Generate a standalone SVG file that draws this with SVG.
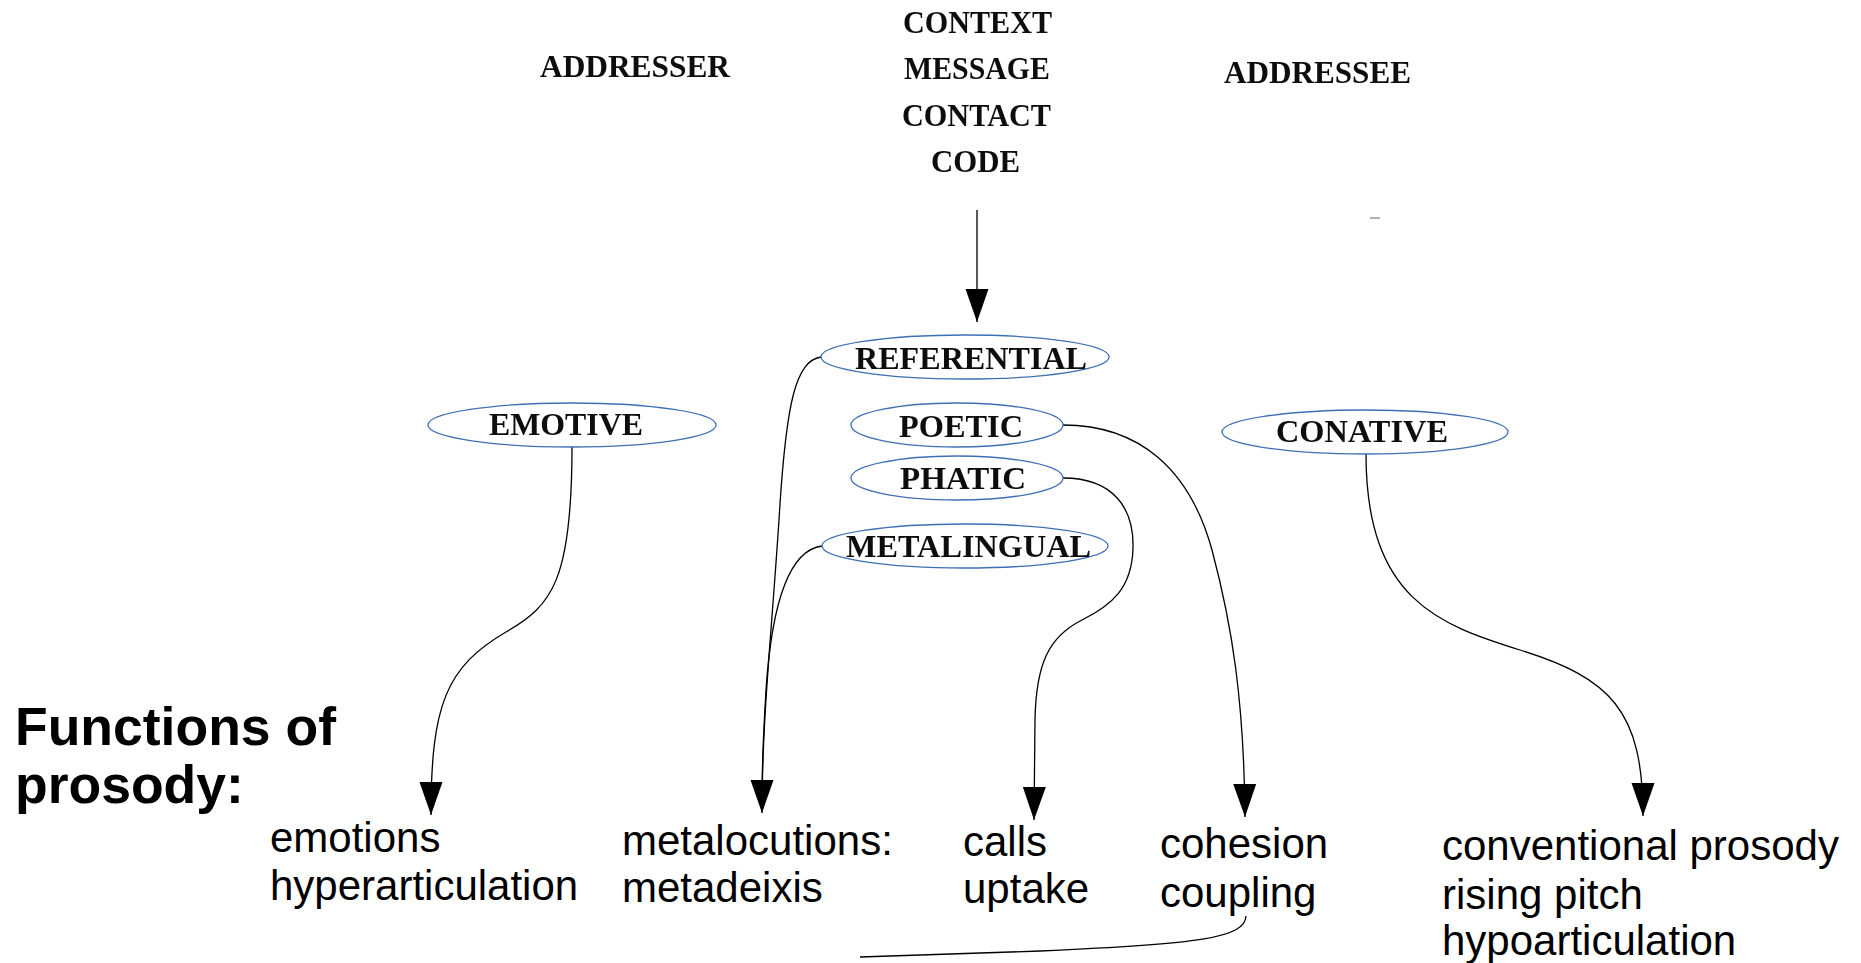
<svg xmlns="http://www.w3.org/2000/svg" width="1861" height="963" viewBox="0 0 1861 963">
  <defs>
    <style>
      .serif { font-family: "Liberation Serif", "DejaVu Serif", serif; font-weight: bold; font-size: 31px; fill: #111; }
      .fn { font-family: "Liberation Serif", "DejaVu Serif", serif; font-weight: bold; font-size: 32px; fill: #111; }
      .out { font-family: "Liberation Sans", Arial, sans-serif; font-size: 42px; fill: #000; }
      .title { font-family: "Liberation Sans", Arial, sans-serif; font-size: 53.5px; font-weight: bold; fill: #000; }
      .oval { fill: #fff; stroke: #3e6fb5; stroke-width: 1.3; }
      .link { fill: none; stroke: #000; stroke-width: 1.3; }
    </style>
    <filter id="soft" x="-5%" y="-30%" width="110%" height="160%">
      <feGaussianBlur stdDeviation="0.6"/>
    </filter>
    <marker id="head" markerUnits="userSpaceOnUse" markerWidth="34" markerHeight="24" refX="33" refY="11.5" orient="auto">
      <path d="M0,0 L33,11.5 L0,23 z" fill="#000"/>
    </marker>
  </defs>
  <rect width="1861" height="963" fill="#fff"/>

  <!-- Jakobson's factors of communication -->
  <g id="factors" filter="url(#soft)">
    <text class="serif" x="540" y="77" textLength="190" lengthAdjust="spacingAndGlyphs">ADDRESSER</text>
    <text class="serif" x="903" y="33" textLength="149" lengthAdjust="spacingAndGlyphs">CONTEXT</text>
    <text class="serif" x="904" y="79" textLength="146" lengthAdjust="spacingAndGlyphs">MESSAGE</text>
    <text class="serif" x="902" y="126" textLength="149" lengthAdjust="spacingAndGlyphs">CONTACT</text>
    <text class="serif" x="931" y="172" textLength="89" lengthAdjust="spacingAndGlyphs">CODE</text>
    <text class="serif" x="1224" y="83" textLength="187" lengthAdjust="spacingAndGlyphs">ADDRESSEE</text>
    <line x1="1370" y1="218" x2="1380" y2="218" stroke="#999" stroke-width="1.5"/>
  </g>

  <!-- connectors -->
  <g id="connectors">
    <path class="link" d="M977,210 L977,322" marker-end="url(#head)"/>
    <path class="link" d="M572,447 C572,580 552,606 506,632 C446,667 431,705 431,815" marker-end="url(#head)"/>
    <path class="link" d="M821,357 C796,361 786,400 779,520 C771,640 762,720 762,813" marker-end="url(#head)"/>
    <path class="link" d="M822,546 C790,550 772,600 766,690 C763,740 762,770 762,800"/>
    <path class="link" d="M1063,478 C1115,478 1134,510 1133,548 C1132,588 1112,605 1082,620 C1048,637 1036,665 1035,720 L1034,820" marker-end="url(#head)"/>
    <path class="link" d="M1063,425 C1140,425 1190,470 1212,550 C1232,625 1244,700 1245,817" marker-end="url(#head)"/>
    <path class="link" d="M1366,454 C1366,600 1440,625 1520,650 C1610,678 1643,710 1643,816" marker-end="url(#head)"/>
    <path class="link" d="M1246,916 C1245,938 1200,944 1040,951 L860,957" stroke-width="1.6"/>
  </g>

  <!-- functions of language -->
  <g id="referential">
    <ellipse class="oval" cx="965" cy="357" rx="144" ry="22"/>
    <text class="fn" x="855" y="369" textLength="232" lengthAdjust="spacingAndGlyphs" filter="url(#soft)">REFERENTIAL</text>
  </g>
  <g id="emotive">
    <ellipse class="oval" cx="572" cy="425" rx="144" ry="22"/>
    <text class="fn" x="489" y="435" textLength="154" lengthAdjust="spacingAndGlyphs" filter="url(#soft)">EMOTIVE</text>
  </g>
  <g id="poetic">
    <ellipse class="oval" cx="957" cy="425" rx="106" ry="22"/>
    <text class="fn" x="899" y="437" textLength="124" lengthAdjust="spacingAndGlyphs" filter="url(#soft)">POETIC</text>
  </g>
  <g id="phatic">
    <ellipse class="oval" cx="957" cy="478" rx="106" ry="22"/>
    <text class="fn" x="900" y="489" textLength="126" lengthAdjust="spacingAndGlyphs" filter="url(#soft)">PHATIC</text>
  </g>
  <g id="metalingual">
    <ellipse class="oval" cx="965" cy="546" rx="143" ry="22"/>
    <text class="fn" x="846" y="557" textLength="245" lengthAdjust="spacingAndGlyphs" filter="url(#soft)">METALINGUAL</text>
  </g>
  <g id="conative">
    <ellipse class="oval" cx="1365" cy="432" rx="143" ry="22"/>
    <text class="fn" x="1276" y="442" textLength="172" lengthAdjust="spacingAndGlyphs" filter="url(#soft)">CONATIVE</text>
  </g>

  <!-- functions of prosody -->
  <g id="title">
    <text class="title" x="15" y="745">Functions of</text>
    <text class="title" x="15" y="803">prosody:</text>
  </g>
  <g id="emotions">
    <text class="out" x="270" y="852">emotions</text>
    <text class="out" x="270" y="900">hyperarticulation</text>
  </g>
  <g id="metalocutions">
    <text class="out" x="622" y="855">metalocutions:</text>
    <text class="out" x="622" y="902">metadeixis</text>
  </g>
  <g id="calls">
    <text class="out" x="963" y="856">calls</text>
    <text class="out" x="963" y="903">uptake</text>
  </g>
  <g id="cohesion">
    <text class="out" x="1160" y="858">cohesion</text>
    <text class="out" x="1160" y="907">coupling</text>
  </g>
  <g id="conventional">
    <text class="out" x="1442" y="860">conventional prosody</text>
    <text class="out" x="1442" y="909">rising pitch</text>
    <text class="out" x="1442" y="955">hypoarticulation</text>
  </g>
</svg>
